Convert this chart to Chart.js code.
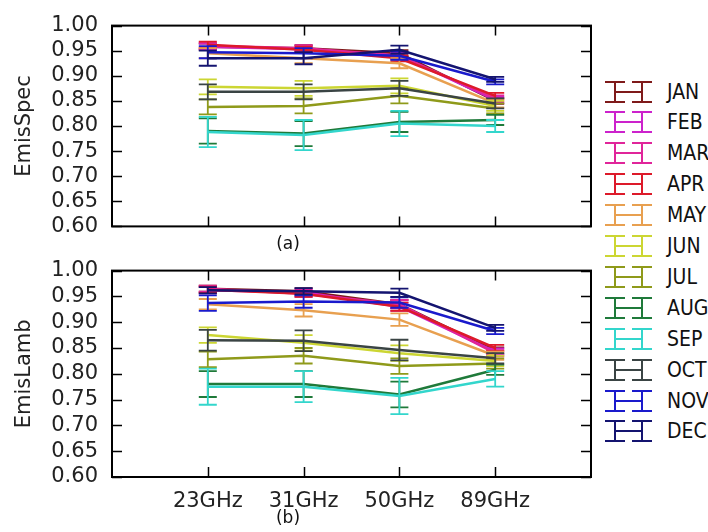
<!DOCTYPE html>
<html>
<head>
<meta charset="utf-8">
<script src="https://cdn.jsdelivr.net/npm/chart.js@4"></script>
<style>
  body { margin: 0; background: #fff; width: 708px; height: 532px; overflow: hidden; position: relative; font-family: "DejaVu Sans", sans-serif; }
  .box { position: absolute; left: 0; width: 600px; }
  #topBox { top: -1px; height: 254px; }
  #botBox { top: 244px; height: 288px; }
  .sub { position: absolute; font-size: 17px; color: #111; transform: translate(-50%, -50%); }
  .item { position: absolute; left: 605px; width: 48px; height: 22px; }
  .item div { position: absolute; }
  .lbl { position: absolute; left: 667px; font-family: "DejaVu Sans Condensed", "DejaVu Sans", sans-serif; font-size: 21px; transform: translateY(-50%); color: #111; }
</style>
</head>
<body>
<div class="box" id="topBox"><canvas id="chart1"></canvas></div>
<div class="box" id="botBox"><canvas id="chart2"></canvas></div>
<div class="sub" style="left:288px; top:243px;">(a)</div>
<div class="sub" style="left:288px; top:517px;">(b)</div>
<div id="legend"></div>
<script>
    var freqs = ['23GHz', '31GHz', '50GHz', '89GHz'];
    var months = ['JAN', 'FEB', 'MAR', 'APR', 'MAY', 'JUN', 'JUL', 'AUG', 'SEP', 'OCT', 'NOV', 'DEC'];
    var colors = ['#7f1a1a', '#cc22cc', '#e0259a', '#dd1a2a', '#e8a050', '#ccd633',
                  '#8f9a1a', '#1f7a3a', '#33d6cc', '#3a4444', '#1a1acc', '#141470'];
    var yTicks = [0.60, 0.65, 0.70, 0.75, 0.80, 0.85, 0.90, 0.95, 1.00];

    // (a) EmisSpec, one row per month, one value per frequency
    var specValues = [
        [0.958, 0.955, 0.945, 0.850],
        [0.958, 0.953, 0.940, 0.852],
        [0.960, 0.955, 0.940, 0.855],
        [0.962, 0.952, 0.935, 0.860],
        [0.945, 0.935, 0.925, 0.845],
        [0.878, 0.875, 0.880, 0.840],
        [0.838, 0.840, 0.860, 0.835],
        [0.790, 0.785, 0.808, 0.812],
        [0.788, 0.782, 0.805, 0.800],
        [0.868, 0.868, 0.875, 0.845],
        [0.947, 0.945, 0.940, 0.888],
        [0.935, 0.935, 0.952, 0.893]
    ];
    var specErrors = [
        [0.006, 0.006, 0.006, 0.006],
        [0.006, 0.006, 0.006, 0.006],
        [0.006, 0.006, 0.006, 0.006],
        [0.006, 0.006, 0.006, 0.006],
        [0.010, 0.010, 0.010, 0.008],
        [0.015, 0.015, 0.015, 0.010],
        [0.015, 0.015, 0.015, 0.010],
        [0.025, 0.025, 0.020, 0.010],
        [0.030, 0.030, 0.025, 0.012],
        [0.015, 0.015, 0.015, 0.010],
        [0.012, 0.010, 0.008, 0.005],
        [0.015, 0.012, 0.008, 0.005]
    ];

    // (b) EmisLamb
    var lambValues = [
        [0.965, 0.960, 0.935, 0.845],
        [0.962, 0.958, 0.930, 0.843],
        [0.965, 0.955, 0.935, 0.840],
        [0.963, 0.955, 0.930, 0.850],
        [0.935, 0.923, 0.905, 0.835],
        [0.875, 0.860, 0.840, 0.825],
        [0.828, 0.835, 0.815, 0.820],
        [0.780, 0.780, 0.760, 0.808],
        [0.775, 0.775, 0.757, 0.790],
        [0.865, 0.864, 0.846, 0.830],
        [0.937, 0.940, 0.938, 0.883],
        [0.962, 0.960, 0.957, 0.889]
    ];
    var lambErrors = [
        [0.006, 0.006, 0.008, 0.006],
        [0.006, 0.006, 0.008, 0.006],
        [0.006, 0.006, 0.008, 0.006],
        [0.006, 0.006, 0.008, 0.006],
        [0.010, 0.012, 0.012, 0.008],
        [0.015, 0.015, 0.015, 0.010],
        [0.015, 0.015, 0.015, 0.010],
        [0.025, 0.025, 0.025, 0.010],
        [0.035, 0.030, 0.035, 0.015],
        [0.020, 0.020, 0.020, 0.010],
        [0.015, 0.012, 0.010, 0.006],
        [0.006, 0.006, 0.008, 0.006]
    ];

    // error bars, inward ticks and the frame, drawn with the chart's own scales
    var errorBars = {
        id: 'errorBars',
        afterDatasetDraw: function(chart, args) {
            var ds = chart.data.datasets[args.index];
            var x = chart.scales.x, y = chart.scales.y;
            var ctx = chart.ctx;
            ctx.save();
            ctx.strokeStyle = ds.borderColor;
            ctx.lineWidth = 1.8;
            ds.data.forEach(function(p, i) {
                var px = x.getPixelForValue(p.x);
                var y1 = y.getPixelForValue(p.y + ds.errs[i]);
                var y2 = y.getPixelForValue(p.y - ds.errs[i]);
                ctx.beginPath();
                ctx.moveTo(px, y1); ctx.lineTo(px, y2);
                ctx.moveTo(px - 9, y1); ctx.lineTo(px + 9, y1);
                ctx.moveTo(px - 9, y2); ctx.lineTo(px + 9, y2);
                ctx.stroke();
            });
            ctx.restore();
        },
        afterDraw: function(chart) {
            var a = chart.chartArea, ctx = chart.ctx;
            var x = chart.scales.x, y = chart.scales.y;
            ctx.save();
            ctx.strokeStyle = '#000';
            ctx.lineWidth = 1.5;
            ctx.beginPath();
            yTicks.forEach(function(v) {
                var py = Math.round(y.getPixelForValue(v)) + 0.5;
                ctx.moveTo(a.left, py); ctx.lineTo(a.left + 10, py);
                ctx.moveTo(a.right, py); ctx.lineTo(a.right - 10, py);
            });
            freqs.forEach(function(f, i) {
                var px = Math.round(x.getPixelForValue(i)) + 0.5;
                ctx.moveTo(px, a.top); ctx.lineTo(px, a.top + 10);
                ctx.moveTo(px, a.bottom); ctx.lineTo(px, a.bottom - 10);
            });
            ctx.stroke();
            ctx.lineWidth = 2;
            ctx.strokeRect(a.left, a.top, a.right - a.left, a.bottom - a.top);
            ctx.restore();
        }
    };

    function makeDatasets(values, errors) {
        return months.map(function(m, k) {
            return {
                label: m,
                data: values[k].map(function(v, i) { return { x: i, y: v }; }),
                errs: errors[k],
                borderColor: colors[k],
                backgroundColor: colors[k],
                borderWidth: 2.5,
                pointRadius: 0,
                tension: 0,
                order: months.length - k
            };
        });
    }

    function makeChart(id, values, errors, title, showX, pad) {
        return new Chart(document.getElementById(id), {
            type: 'line',
            data: { datasets: makeDatasets(values, errors) },
            plugins: [errorBars],
            options: {
                responsive: true,
                maintainAspectRatio: false,
                animation: false,
                layout: { padding: pad },
                plugins: { legend: { display: false }, tooltip: { enabled: false } },
                scales: {
                    x: {
                        type: 'linear', min: -1, max: 4,
                        display: showX,
                        grid: { display: false, drawTicks: false },
                        border: { display: false },
                        afterBuildTicks: function(s) { s.ticks = freqs.map(function(f, i) { return { value: i }; }); },
                        ticks: {
                            autoSkip: false, maxRotation: 0, padding: 12,
                            color: '#222', font: { family: 'DejaVu Sans', size: 21 },
                            callback: function(v) { return freqs[v]; }
                        },
                        afterFit: function(s) { if (showX) s.height = 55; }
                    },
                    y: {
                        min: 0.6, max: 1.0,
                        grid: { display: false, drawTicks: false },
                        border: { display: false },
                        afterBuildTicks: function(s) { s.ticks = yTicks.map(function(v) { return { value: v }; }); },
                        ticks: {
                            autoSkip: false, padding: 14, color: '#222',
                            font: { family: 'DejaVu Sans', size: 21 },
                            callback: function(v) { return v.toFixed(2); }
                        },
                        title: {
                            display: true, text: title, color: '#222',
                            font: { family: 'DejaVu Sans', size: 21 },
                            padding: { top: 2, bottom: 0 }
                        },
                        afterFit: function(s) { s.width = 112 - 10; }
                    }
                }
            }
        });
    }

    makeChart('chart1', specValues, specErrors, 'EmisSpec', false,
        { top: 19, bottom: 22, left: 10, right: 9 });
    makeChart('chart2', lambValues, lambErrors, 'EmisLamb', true,
        { top: 19, bottom: 0, left: 10, right: 9 });

    // legend spanning both panels
    var legend = document.getElementById('legend');
    months.forEach(function(m, k) {
        var cy = 91.5 + k * 30.9;
        var c = colors[k];
        var item = document.createElement('div');
        item.className = 'item';
        item.style.top = (cy - 11) + 'px';
        item.innerHTML =
            '<div style="left:9px;top:0;width:2px;height:22px;background:' + c + '"></div>' +
            '<div style="left:0;top:0;width:20px;height:2px;background:' + c + '"></div>' +
            '<div style="left:0;top:20px;width:20px;height:2px;background:' + c + '"></div>' +
            '<div style="left:36px;top:0;width:2px;height:22px;background:' + c + '"></div>' +
            '<div style="left:27px;top:0;width:20px;height:2px;background:' + c + '"></div>' +
            '<div style="left:27px;top:20px;width:20px;height:2px;background:' + c + '"></div>' +
            '<div style="left:10px;top:10px;width:27px;height:2px;background:' + c + '"></div>';
        legend.appendChild(item);
        var lbl = document.createElement('div');
        lbl.className = 'lbl';
        lbl.style.top = cy + 'px';
        lbl.textContent = m;
        legend.appendChild(lbl);
    });
</script>
</body>
</html>
